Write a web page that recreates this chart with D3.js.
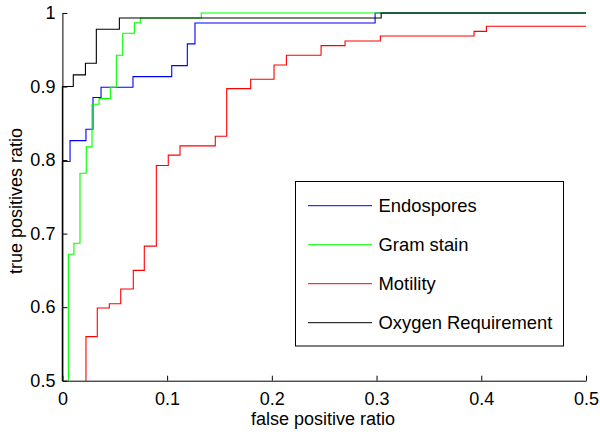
<!DOCTYPE html>
<html>
<head>
<meta charset="utf-8">
<script src="https://cdn.jsdelivr.net/npm/d3@7"></script>
<style>
  html, body { margin: 0; padding: 0; background: #fff; }
  svg { display: block; font-family: "Liberation Sans", Arial, sans-serif; }
</style>
</head>
<body>
<svg id="chart" width="600" height="436"></svg>
<script>
// ---- Data ----
const seriesNames = ["Endospores", "Gram stain", "Motility", "Oxygen Requirement"];
const seriesColors = ["#0000ff", "#00ff00", "#ff0000", "#000000"];

const endosporesFpr = [0, 0, 0.0073, 0.0225, 0.0292, 0.0369, 0.0674, 0.1044, 0.1193, 0.1266, 0.2986, 0.5];
const endosporesTpr = [0.5, 0.798, 0.8265, 0.842, 0.885, 0.899, 0.9135, 0.9284, 0.958, 0.9864, 1, 1];

const gramFpr = [0.0057, 0.0057, 0.011, 0.0168, 0.0228, 0.0283, 0.035, 0.0458, 0.0515, 0.0576, 0.0687, 0.0744, 0.1326, 0.5];
const gramTpr = [0.5, 0.672, 0.687, 0.782, 0.818, 0.876, 0.8836, 0.899, 0.9425, 0.9724, 0.9868, 0.9932, 1, 1];

const motilityFpr = [0.0225, 0.0225, 0.0333, 0.0448, 0.0557, 0.0677, 0.0782, 0.0897, 0.1011, 0.1123, 0.146, 0.1569, 0.1798, 0.2021, 0.2139, 0.247, 0.2699, 0.3036, 0.3931, 0.4049, 0.5];
const motilityTpr = [0.5, 0.56, 0.5988, 0.6046, 0.6246, 0.65, 0.683, 0.7926, 0.8067, 0.8193, 0.8325, 0.8972, 0.9099, 0.9293, 0.9425, 0.9556, 0.962, 0.9688, 0.975, 0.9819, 0.9819];

const oxygenFpr = [0, 0, 0.0104, 0.022, 0.0324, 0.0544, 0.3044, 0.5];
const oxygenTpr = [0.5, 0.9, 0.9158, 0.9317, 0.978, 0.9932, 1, 1];

const xTicks = [0, 0.1, 0.2, 0.3, 0.4, 0.5];
const yTicks = [0.5, 0.6, 0.7, 0.8, 0.9, 1];
const xLabel = "false positive ratio";
const yLabel = "true positives ratio";

// ---- Build series ----
const seriesX = [endosporesFpr, gramFpr, motilityFpr, oxygenFpr];
const seriesY = [endosporesTpr, gramTpr, motilityTpr, oxygenTpr];
const series = seriesNames.map((name, i) => ({
  name, color: seriesColors[i],
  points: seriesX[i].map((x, j) => [x, seriesY[i][j]])
}));

// ---- Layout ----
const svg = d3.select("#chart");
const mLeft = 62.4, mRight = 586, mTop = 13, mBottom = 380.7;
const fontSize = "18px";

const x = d3.scaleLinear().domain([0, 0.5]).range([mLeft, mRight]);
const y = d3.scaleLinear().domain([0.5, 1]).range([mBottom, mTop]);

const line = d3.line()
  .x(d => x(d[0]))
  .y(d => y(d[1]))
  .curve(d3.curveStepAfter);

const g = svg.append("g");
g.selectAll("path.series")
  .data(series)
  .join("path")
  .attr("class", "series")
  .attr("fill", "none")
  .attr("stroke", d => d.color)
  .attr("stroke-width", 1.1)
  .attr("d", d => line(d.points));

// ---- Axes (ticks inside) ----
const fmt = d => (d === 0 ? "0" : d === 1 ? "1" : d3.format(".1f")(d));

const xAxis = svg.append("g")
  .attr("transform", `translate(0,${mBottom})`)
  .call(d3.axisBottom(x).tickValues(xTicks).tickFormat(fmt).tickSizeInner(-5).tickSizeOuter(0).tickPadding(11.5));
const yAxis = svg.append("g")
  .attr("transform", `translate(${mLeft},0)`)
  .call(d3.axisLeft(y).tickValues(yTicks).tickFormat(fmt).tickSizeInner(-5).tickSizeOuter(0).tickPadding(7));

[xAxis, yAxis].forEach(a => {
  a.attr("font-size", null).attr("font-family", null);
  a.select(".domain").attr("stroke", "#000").attr("stroke-width", 1);
  a.selectAll(".tick line").attr("stroke", "#000");
  a.selectAll(".tick text").attr("fill", "#000")
    .style("font-family", '"Liberation Sans", Arial, sans-serif')
    .style("font-size", fontSize);
});

// ---- Axis labels ----
svg.append("text")
  .attr("x", 323).attr("y", 425)
  .attr("text-anchor", "middle")
  .style("font-size", fontSize)
  .text(xLabel);

svg.append("text")
  .attr("transform", `translate(21.5,201) rotate(-90)`)
  .attr("text-anchor", "middle")
  .style("font-size", fontSize)
  .text(yLabel);

// ---- Legend ----
const lg = svg.append("g");
lg.append("rect")
  .attr("x", 295.5).attr("y", 181.5)
  .attr("width", 268).attr("height", 164.5)
  .attr("fill", "#fff").attr("stroke", "#000").attr("stroke-width", 1);

const legendY = d3.scalePoint().domain(seriesNames).range([205.7, 322.7]);
const items = lg.selectAll("g.item").data(series).join("g").attr("class", "item");
items.append("line")
  .attr("x1", 308).attr("x2", 372)
  .attr("y1", d => legendY(d.name)).attr("y2", d => legendY(d.name))
  .attr("stroke", d => d.color).attr("stroke-width", 1);
items.append("text")
  .attr("x", 378.5)
  .attr("y", d => legendY(d.name))
  .attr("dy", "0.35em")
  .style("font-size", "18.4px")
  .text(d => d.name);
</script>
</body>
</html>
